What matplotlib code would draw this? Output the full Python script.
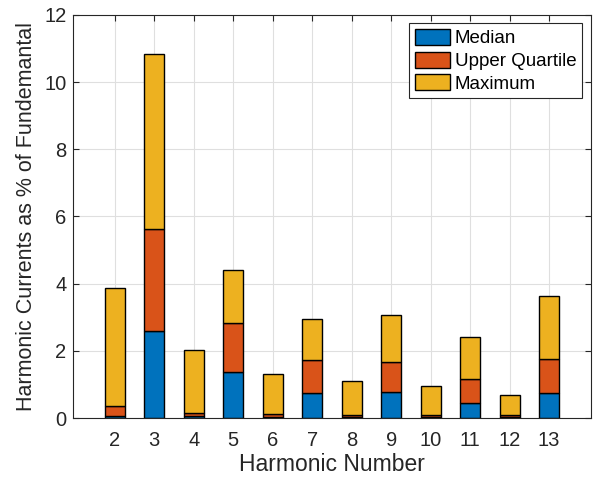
import matplotlib.pyplot as plt
import numpy as np

plt.rcParams['font.family'] = ['Liberation Sans', 'DejaVu Sans']

harmonics = [2, 3, 4, 5, 6, 7, 8, 9, 10, 11, 12, 13]
# cumulative levels (% of fundamental)
median = [0.05, 2.58, 0.05, 1.37, 0.04, 0.74, 0.04, 0.77, 0.04, 0.45, 0.04, 0.76]
upper_quartile = [0.35, 5.63, 0.14, 2.84, 0.13, 1.73, 0.09, 1.68, 0.08, 1.16, 0.09, 1.76]
maximum = [3.87, 10.85, 2.03, 4.40, 1.31, 2.94, 1.11, 3.07, 0.95, 2.40, 0.70, 3.63]

x = np.array(harmonics)
med = np.array(median)
uq = np.array(upper_quartile)
mx = np.array(maximum)

fig = plt.figure(figsize=(5.96, 4.8), dpi=100)
ax = fig.add_axes([0.123, 0.129, 0.868, 0.840])

w = 0.5
ax.bar(x, med, w, color='#0072BD', edgecolor='black', linewidth=1, label='Median', zorder=3)
ax.bar(x, uq - med, w, bottom=med, color='#D95319', edgecolor='black', linewidth=1,
       label='Upper Quartile', zorder=3)
ax.bar(x, mx - uq, w, bottom=uq, color='#EDB120', edgecolor='black', linewidth=1,
       label='Maximum', zorder=3)

ax.set_xlim(0.95, 14.05)
ax.set_ylim(0, 12)
ax.set_xticks(harmonics)
ax.set_yticks(np.arange(0, 13, 2))
ax.grid(True, color='#dfdfdf', linewidth=0.8, zorder=0)
ax.set_axisbelow(True)

for s in ax.spines.values():
    s.set_color('#262626')
    s.set_linewidth(0.8)
    s.set_zorder(4)
ax.tick_params(direction='in', top=True, right=True, length=4, width=0.8,
               colors='#262626', labelsize=14.5, labelcolor='#262626')
ax.tick_params(axis='x', pad=9.5)
ax.tick_params(axis='y', pad=5)

ax.set_xlabel('Harmonic Number', fontsize=16.5, color='#262626', labelpad=2)
ax.set_ylabel('Harmonic Currents as % of Fundemantal', fontsize=15.5, color='#262626', labelpad=5)

leg = ax.legend(loc='upper right', fontsize=13.5, fancybox=False, framealpha=1,
                edgecolor='#262626', handlelength=1.9, handleheight=0.95,
                handletextpad=0.25, borderaxespad=0.45, borderpad=0.3, labelspacing=0.22)
leg.get_frame().set_linewidth(0.8)

fig.savefig('out.png', dpi=100)
